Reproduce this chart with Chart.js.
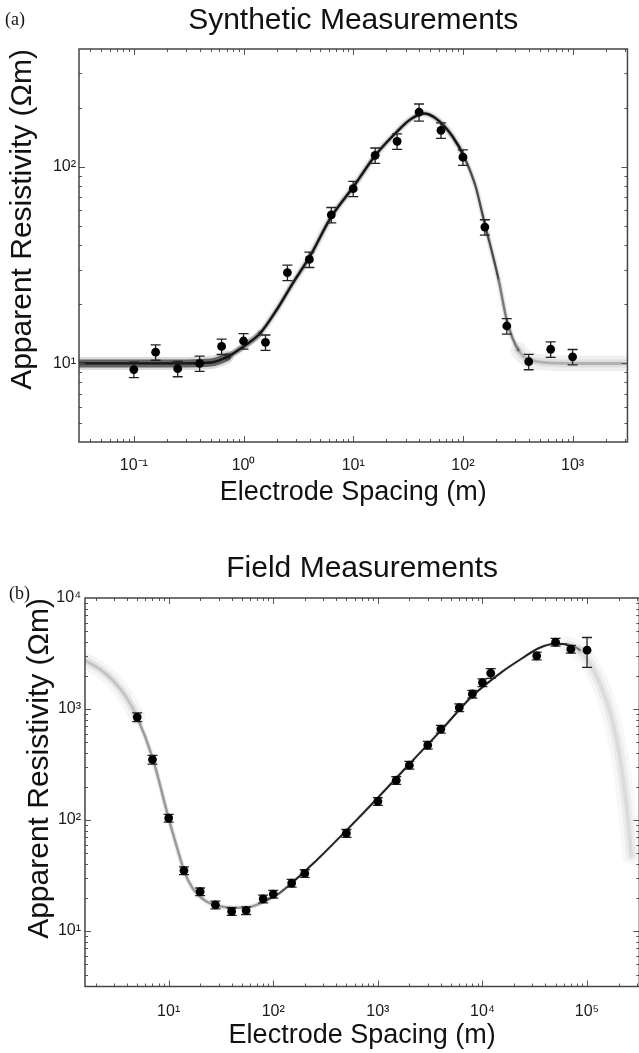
<!DOCTYPE html>
<html><head><meta charset="utf-8">
<script src="https://cdn.jsdelivr.net/npm/chart.js@4.4.1/dist/chart.umd.min.js"></script>
<style>
html,body{margin:0;padding:0;background:#fff;overflow:hidden;width:639px;height:1053px;}
#wrapA{position:absolute;left:0;top:0;width:639px;height:520px;}
#wrapB{position:absolute;left:0;top:520px;width:652px;height:533px;}
.panel{position:absolute;font-family:'Liberation Serif','Times New Roman',serif;font-size:18px;color:#111;line-height:20px;}
</style></head><body>
<div id="wrapA"><canvas id="chartA" width="639" height="520"></canvas></div>
<div id="wrapB"><canvas id="chartB" width="652" height="533"></canvas></div>
<div class="panel" style="left:5px;top:9px">(a)</div>
<div class="panel" style="left:9px;top:583px">(b)</div>
<script>
// ---------- (a) Synthetic measurements ----------
const synthSpacing = [0.1, 0.158, 0.251, 0.398, 0.631, 1.0, 1.585, 2.512, 3.981, 6.31, 10, 15.85, 25.12, 39.81, 63.1, 100, 158.5, 251.2, 398.1, 631, 1000];
const synthRho     = [9.3, 11.4, 9.4, 10.0, 12.2, 13.0, 12.8, 29, 33.8, 57, 77.5, 114.5, 135, 190, 153.5, 112, 49.4, 15.5, 10.2, 11.8, 10.8];
const synthErr     = [0.09, 0.09, 0.09, 0.09, 0.09, 0.09, 0.09, 0.09, 0.09, 0.09, 0.09, 0.09, 0.09, 0.1, 0.09, 0.09, 0.09, 0.09, 0.09, 0.09, 0.09];
const synthFitSpacing = [0.0316, 0.1, 0.3, 0.5, 0.71, 1.0, 1.41, 2.0, 2.8, 4.0, 6.3, 10, 16, 25, 33, 44, 57, 81, 103, 131, 150, 161, 212, 251, 320, 480, 1000, 3162];
const synthFitRho     = [10.0, 10.0, 10.0, 10.1, 10.8, 12.2, 14.2, 18.7, 25.5, 34.8, 55.7, 79, 115, 151, 174, 187, 176, 142, 112, 79, 58, 49.5, 26.5, 16.6, 11.7, 10.2, 10.0, 10.0];
const xDecadesA = [0.1, 1, 10, 100, 1000];
const xLabelsA  = ['10⁻¹', '10⁰', '10¹', '10²', '10³'];
const yDecadesA = [10, 100];
const yLabelsA  = ['10¹', '10²'];

// ---------- (b) Field measurements ----------
const fieldSpacing = [5, 7, 10, 14, 20, 28, 40, 55, 80, 100, 150, 200, 500, 1000, 1500, 2000, 3000, 4000, 6000, 8000, 10000, 12000, 33000, 50000, 70000, 100000];
const fieldRho     = [845, 350, 104, 35, 22.6, 17.2, 15, 15.3, 19.5, 21.5, 27, 33, 76, 147, 228, 312, 473, 659, 1028, 1365, 1729, 2100, 3013, 4000, 3460, 3390];
const fieldErr     = [0.09, 0.09, 0.08, 0.08, 0.08, 0.08, 0.08, 0.08, 0.08, 0.08, 0.08, 0.08, 0.08, 0.08, 0.08, 0.08, 0.08, 0.08, 0.08, 0.08, 0.08, 0.1, 0.08, 0.08, 0.08, 0.3];
const fieldFitSpacing = [1.58, 2.2, 2.95, 3.95, 5.0, 7.05, 10, 12.6, 14.1, 16.9, 22.6, 30.2, 40.4, 58, 83.5, 112, 150, 200, 264, 501, 980, 2023, 4036, 7880, 15500, 24000, 34400, 49500, 66100, 85000, 110000, 136000, 170000, 205000, 238000, 265000];
const fieldFitRho     = [2750, 2280, 1800, 1270, 841, 357, 103.5, 48.6, 34.4, 24.4, 18.6, 16.8, 16.2, 16.4, 18.6, 21.6, 27, 34.5, 44, 80.7, 155.6, 323, 646, 1291, 2172, 2864, 3524, 3865, 3785, 3400, 2430, 1606, 865, 380, 135, 48];
const xDecadesB = [10, 100, 1000, 10000, 100000];
const xLabelsB  = ['10¹', '10²', '10³', '10⁴', '10⁵'];
const yDecadesB = [10, 100, 1000, 10000];
const yLabelsB  = ['10¹', '10²', '10³', '10⁴'];

const F = "'Liberation Sans', Arial, Helvetica, sans-serif";
Chart.defaults.font.family = F;
Chart.defaults.color = '#1a1a1a';

function isDecade(v) { const l = Math.log10(v); return Math.abs(l - Math.round(l)) < 1e-6; }
function logTicks(min, max) {
  const out = [];
  for (let e = Math.floor(Math.log10(min)); e <= Math.ceil(Math.log10(max)); e++) {
    for (let k = 1; k <= 9; k++) {
      const v = k * Math.pow(10, e);
      if (v >= min * 0.9999 && v <= max * 1.0001) out.push({ value: v });
    }
  }
  return out;
}
function labelFor(decades, labels) {
  return v => { const i = decades.findIndex(d => Math.abs(d - v) / d < 1e-6); return i >= 0 ? labels[i] : ''; };
}
function pts(xs, ys) { return xs.map((x, i) => ({ x, y: ys[i] })); }
function errPts(xs, ys, es) {
  const d = [];
  xs.forEach((x, i) => { d.push({ x, y: ys[i] * (1 - es[i]) }, { x, y: ys[i] * (1 + es[i]) }, { x, y: null }); });
  return d;
}
function fitLayer(xs, ys, styleFn, order) {
  return {
    data: pts(xs, ys), showLine: true, pointRadius: 0, pointHoverRadius: 0,
    borderColor: '#111', borderWidth: 2, cubicInterpolationMode: 'monotone', order,
    borderCapStyle: 'round', borderJoinStyle: 'round',
    segment: {
      borderColor: c => styleFn(Math.sqrt(xs[c.p0DataIndex] * xs[c.p1DataIndex]))[0],
      borderWidth: c => styleFn(Math.sqrt(xs[c.p0DataIndex] * xs[c.p1DataIndex]))[1]
    }
  };
}

const frame = {
  id: 'frame',
  afterDatasetsDraw(chart) {
    const { ctx, chartArea: a } = chart;
    const sx = chart.scales.x, sy = chart.scales.y;
    ctx.save();
    ctx.strokeStyle = '#555';
    ctx.lineWidth = 1;
    ctx.beginPath();
    sx.ticks.forEach(t => {
      const p = Math.round(sx.getPixelForValue(t.value)) + 0.5;
      if (p <= a.left + 1 || p >= a.right - 1) return;
      const L = isDecade(t.value) ? 6 : 3;
      ctx.moveTo(p, a.bottom); ctx.lineTo(p, a.bottom - L);
      ctx.moveTo(p, a.top); ctx.lineTo(p, a.top + L);
    });
    sy.ticks.forEach(t => {
      const p = Math.round(sy.getPixelForValue(t.value)) + 0.5;
      if (p <= a.top + 1 || p >= a.bottom - 1) return;
      const L = isDecade(t.value) ? 6 : 3;
      ctx.moveTo(a.left, p); ctx.lineTo(a.left + L, p);
      ctx.moveTo(a.right, p); ctx.lineTo(a.right - L, p);
    });
    ctx.stroke();
    ctx.strokeStyle = '#444';
    ctx.lineWidth = 1.5;
    ctx.strokeRect(a.left, a.top, a.right - a.left, a.bottom - a.top);
    ctx.restore();
  }
};

function makeChart(id, cfg) {
  return new Chart(document.getElementById(id), {
    type: 'scatter',
    data: { datasets: [
      { data: pts(cfg.xs, cfg.ys), pointRadius: 4.4, pointHoverRadius: 4.4, backgroundColor: '#000', borderColor: '#000', borderWidth: 0, order: 0 },
      { data: errPts(cfg.xs, cfg.ys, cfg.es), showLine: true, spanGaps: false, borderColor: '#222', borderWidth: 1.3,
        pointStyle: 'line', pointRadius: 5, pointHoverRadius: 5, pointBorderColor: '#222', pointBorderWidth: 1.3, order: 1 },
      fitLayer(cfg.fx, cfg.fy, cfg.core, 2),
      fitLayer(cfg.fx, cfg.fy, cfg.inner, 3),
      fitLayer(cfg.fx, cfg.fy, cfg.outer, 4)
    ] },
    options: {
      responsive: false, animation: false, events: [],
      layout: { padding: cfg.pad },
      plugins: {
        legend: { display: false }, tooltip: { enabled: false },
        title: { display: true, text: cfg.title, fullSize: false, color: '#111',
                 font: { size: 30, weight: 'normal', family: F }, padding: cfg.titlePad }
      },
      scales: {
        x: {
          type: 'logarithmic', min: cfg.xmin, max: cfg.xmax,
          grid: { display: false, drawTicks: false }, border: { display: false },
          afterBuildTicks: s => { s.ticks = logTicks(cfg.xmin, cfg.xmax); },
          afterFit: s => { s.height = cfg.xh; },
          ticks: { autoSkip: false, maxRotation: 0, padding: cfg.xtp, color: '#1a1a1a', font: { size: 16 },
                   callback: labelFor(cfg.xd, cfg.xl) },
          title: { display: true, text: 'Electrode Spacing (m)', color: '#111', font: { size: 27 }, padding: { top: 0, bottom: cfg.xtb } }
        },
        y: {
          type: 'logarithmic', min: cfg.ymin, max: cfg.ymax,
          grid: { display: false, drawTicks: false }, border: { display: false },
          afterBuildTicks: s => { s.ticks = logTicks(cfg.ymin, cfg.ymax); },
          afterFit: s => { s.width = cfg.yw; },
          ticks: { autoSkip: false, padding: cfg.ytp, color: '#1a1a1a', font: { size: 16 },
                   callback: labelFor(cfg.yd, cfg.yl) },
          title: { display: true, text: 'Apparent Resistivity (Ωm)', align: 'end', color: '#111', font: { size: 30 }, padding: { top: cfg.ytt, bottom: 0 } }
        }
      }
    },
    plugins: [frame]
  });
}

makeChart('chartA', {
  title: 'Synthetic Measurements', titlePad: { top: 3, bottom: 10 },
  pad: { left: 0, right: 1, top: 0, bottom: 0 },
  xs: synthSpacing, ys: synthRho, es: synthErr, fx: synthFitSpacing, fy: synthFitRho,
  xmin: 0.031623, xmax: 3162.3, ymin: 3.981, ymax: 398.1,
  xd: xDecadesA, xl: xLabelsA, yd: yDecadesA, yl: yLabelsA,
  xh: 78, xtp: 14, xtb: 11, yw: 79, ytp: 3, ytt: 5,
  core:  x => x < 110 ? ['#141414', 2.4] : x < 200 ? ['#4a4a4a', 2.3] : x < 330 ? ['#7a7a7a', 2.4] : ['rgba(0,0,0,0.2)', 3],
  inner: x => x < 0.6 ? ['rgba(0,0,0,0.55)', 8] : x < 1.5 ? ['rgba(0,0,0,0.35)', 6] : x < 110 ? ['rgba(0,0,0,0.25)', 4.5] : x < 330 ? ['rgba(0,0,0,0.1)', 4.5] : ['rgba(0,0,0,0.08)', 8],
  outer: x => x < 0.6 ? ['rgba(0,0,0,0.14)', 13] : x < 110 ? ['rgba(0,0,0,0.06)', 8] : x < 330 ? ['rgba(0,0,0,0.03)', 7] : ['rgba(0,0,0,0.06)', 16]
});

makeChart('chartB', {
  title: 'Field Measurements', titlePad: { top: 31, bottom: 11 },
  pad: { left: 0, right: 7, top: 0, bottom: 0 },
  xs: fieldSpacing, ys: fieldRho, es: fieldErr, fx: fieldFitSpacing, fy: fieldFitRho,
  xmin: 1.5849, xmax: 316228, ymin: 3.1623, ymax: 10000,
  xd: xDecadesB, xl: xLabelsB, yd: yDecadesB, yl: yLabelsB,
  xh: 66.5, xtp: 15, xtb: 1, yw: 85, ytp: 4, ytt: 22,
  core:  x => x < 4.5 ? ['rgba(0,0,0,0.15)', 3] : x < 70 ? ['#9a9a9a', 2.5] : x < 150 ? ['#555', 2.2] : x < 60000 ? ['#222', 2] : x < 85000 ? ['#777', 2.2] : ['rgba(0,0,0,0.07)', 4],
  inner: x => x < 4.5 ? ['rgba(0,0,0,0.07)', 8] : x < 70 ? ['rgba(0,0,0,0.08)', 5] : x < 60000 ? ['rgba(0,0,0,0.05)', 4] : x < 85000 ? ['rgba(0,0,0,0.06)', 8] : ['rgba(0,0,0,0.05)', 10],
  outer: x => x < 4.5 ? ['rgba(0,0,0,0.04)', 16] : x < 60000 ? ['rgba(0,0,0,0.0)', 1] : ['rgba(0,0,0,0.03)', 18]
});
</script>
</body></html>
